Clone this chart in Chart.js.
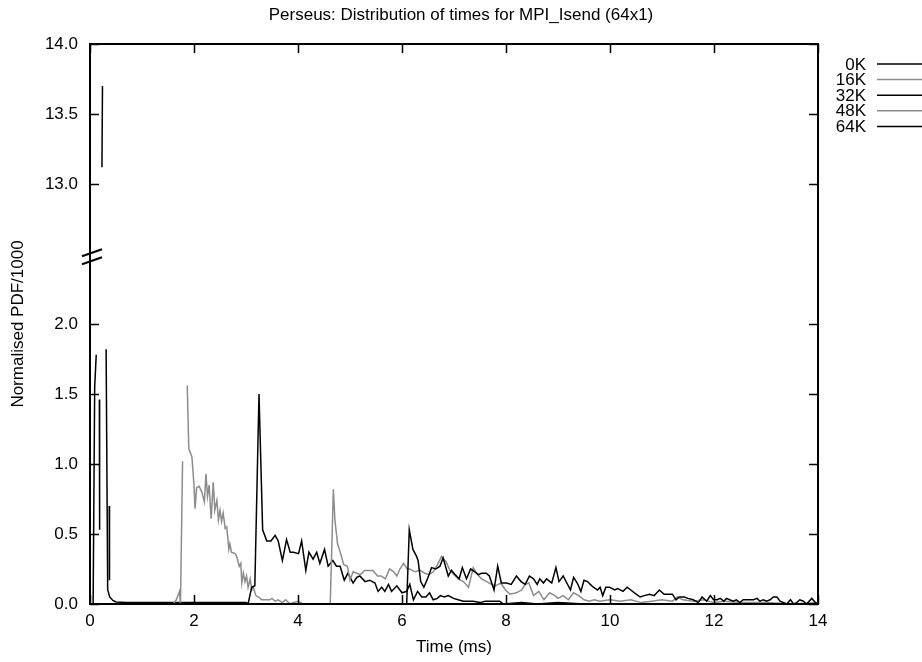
<!DOCTYPE html>
<html>
<head>
<meta charset="utf-8">
<title>Perseus: Distribution of times for MPI_Isend</title>
<script src="https://cdn.jsdelivr.net/npm/chart.js@4.4.1/dist/chart.umd.min.js"></script>
<style>
  html, body { margin: 0; padding: 0; background: #fff; }
  #chart { display: block; }
</style>
</head>
<body>
<canvas id="chart" width="922" height="662"></canvas>
<script>
// Séries (temps en ms, PDF normalisée / 1000), null = trou dans la courbe
const seriesLabels = ["0K", "16K", "32K", "48K", "64K"];

const times0K = [0.00, 0.06, 0.09, 0.12, 0.15, 0.18, 0.185, 0.21, 0.23, 0.24, 0.27, 0.31, 0.34, 0.38, 0.44, 0.50, 0.70, 1.00, 1.50, 2.00, 2.50, 3.00, 3.05, 14.00, 14.00, 0.37, 0.375];
const values0K = [0, 0, 1.55, 1.78, null, 1.46, 0.53, null, 13.12, 13.70, null, 1.82, 0.10, 0.05, 0.025, 0.015, 0.01, 0.01, 0.01, 0.01, 0.01, 0.01, 0, 0, null, 0.70, 0.17];

const times16K = [0.00, 1.60, 1.66, 1.70, 1.72, 1.74, 1.78, 1.82, 1.87, 1.90, 1.96, 2.00, 2.02, 2.05, 2.10, 2.15, 2.20, 2.23, 2.26, 2.29, 2.33, 2.37, 2.40, 2.44, 2.47, 2.50, 2.53, 2.56, 2.60, 2.63, 2.67, 2.69, 2.72, 2.79, 2.82, 2.87, 2.90, 2.92, 2.95, 2.98, 3.01, 3.04, 3.08, 3.11, 3.14, 3.19, 3.24, 3.30, 3.37, 3.46, 3.50, 3.56, 3.62, 3.70, 3.76, 3.85, 3.90, 4.00, 4.10, 14.00];
const values16K = [0, 0, 0.03, 0.07, 0.09, 0.00, 1.02, null, 1.56, 1.11, 1.05, 0.85, 0.68, 0.83, 0.84, 0.80, 0.73, 0.93, 0.77, 0.85, 0.61, 0.87, 0.67, 0.74, 0.60, 0.67, 0.59, 0.65, 0.54, 0.55, 0.39, 0.43, 0.37, 0.36, 0.34, 0.27, 0.29, 0.15, 0.22, 0.16, 0.20, 0.12, 0.18, 0.10, 0.12, 0.06, 0.05, 0.03, 0.03, 0.03, 0.04, 0.02, 0.03, 0.01, 0.03, 0.00, 0.01, 0.02, 0.00, 0];

const times32K = [0.00, 3.00, 3.04, 3.11, 3.17, 3.25, 3.32, 3.40, 3.48, 3.56, 3.62, 3.70, 3.78, 3.85, 3.91, 4.01, 4.07, 4.15, 4.21, 4.29, 4.36, 4.42, 4.51, 4.58, 4.67, 4.74, 4.81, 4.89, 4.96, 5.06, 5.13, 5.19, 5.29, 5.38, 5.48, 5.54, 5.61, 5.67, 5.74, 5.80, 5.90, 6.00, 6.09, 6.15, 6.22, 6.30, 6.38, 6.46, 6.53, 6.60, 6.68, 6.74, 6.81, 6.89, 6.99, 7.08, 7.18, 7.28, 7.37, 7.50, 7.60, 7.76, 7.88, 7.95, 8.30, 8.60, 9.00, 9.50, 14.00];
const values32K = [0, 0, 0, 0.12, 0.13, 1.50, 0.53, 0.45, 0.45, 0.49, 0.45, 0.31, 0.46, 0.37, 0.37, 0.36, 0.45, 0.24, 0.37, 0.32, 0.37, 0.29, 0.39, 0.27, 0.31, 0.27, 0.27, 0.17, 0.22, 0.15, 0.19, 0.20, 0.16, 0.17, 0.15, 0.09, 0.12, 0.09, 0.14, 0.09, 0.13, 0.08, 0.09, 0.14, 0.03, 0.09, 0.05, 0.05, 0.08, 0.03, 0.04, 0.06, 0.05, 0.06, 0.04, 0.03, 0.02, 0.02, 0.02, 0.01, 0.02, 0.02, 0.02, 0.00, 0.01, 0.00, 0.01, 0.00, 0];

const times48K = [0.00, 4.62, 4.68, 4.71, 4.76, 4.82, 4.88, 4.95, 5.00, 5.06, 5.13, 5.20, 5.28, 5.36, 5.44, 5.53, 5.60, 5.68, 5.76, 5.84, 5.90, 5.96, 6.03, 6.10, 6.15, 6.25, 6.35, 6.44, 6.52, 6.60, 6.68, 6.76, 6.85, 6.92, 7.00, 7.08, 7.18, 7.28, 7.37, 7.45, 7.53, 7.63, 7.72, 7.80, 7.90, 7.99, 8.08, 8.20, 8.30, 8.37, 8.44, 8.53, 8.63, 8.73, 8.84, 8.94, 9.00, 9.10, 9.20, 9.30, 9.40, 9.50, 9.60, 9.70, 9.80, 10.00, 10.20, 10.40, 10.60, 10.80, 11.00, 11.20, 11.30, 11.40, 11.60, 11.80, 12.00, 12.20, 12.50, 13.00, 13.50, 14.00];
const values48K = [0, 0, 0.82, 0.60, 0.43, 0.36, 0.28, 0.27, 0.17, 0.23, 0.22, 0.21, 0.24, 0.24, 0.24, 0.20, 0.20, 0.18, 0.25, 0.23, 0.20, 0.25, 0.29, 0.25, 0.25, 0.23, 0.24, 0.22, 0.21, 0.23, 0.28, 0.34, 0.30, 0.24, 0.21, 0.18, 0.16, 0.12, 0.26, 0.21, 0.18, 0.16, 0.14, 0.13, 0.15, 0.10, 0.07, 0.08, 0.10, 0.14, 0.15, 0.06, 0.09, 0.03, 0.08, 0.06, 0.04, 0.06, 0.03, 0.08, 0.06, 0.03, 0.02, 0.03, 0.02, 0.03, 0.02, 0.03, 0.01, 0.02, 0.03, 0.02, 0.05, 0.03, 0.02, 0.03, 0.01, 0.02, 0.01, 0.01, 0.00, 0.01];

const times64K = [0.00, 6.09, 6.14, 6.21, 6.28, 6.31, 6.36, 6.42, 6.49, 6.57, 6.65, 6.73, 6.79, 6.89, 6.95, 7.02, 7.10, 7.16, 7.24, 7.32, 7.40, 7.47, 7.53, 7.62, 7.68, 7.77, 7.84, 7.91, 8.01, 8.10, 8.20, 8.29, 8.37, 8.45, 8.53, 8.60, 8.65, 8.72, 8.78, 8.88, 8.96, 9.02, 9.10, 9.17, 9.24, 9.30, 9.37, 9.44, 9.50, 9.57, 9.62, 9.68, 9.76, 9.81, 9.86, 9.92, 9.99, 10.09, 10.15, 10.25, 10.33, 10.40, 10.47, 10.58, 10.66, 10.76, 10.85, 10.95, 11.04, 11.10, 11.20, 11.27, 11.33, 11.43, 11.50, 11.60, 11.70, 11.77, 11.86, 11.93, 11.99, 12.06, 12.12, 12.19, 12.24, 12.30, 12.37, 12.43, 12.50, 12.56, 12.63, 12.70, 12.76, 12.83, 12.88, 12.95, 13.01, 13.08, 13.14, 13.21, 13.27, 13.34, 13.40, 13.47, 13.53, 13.59, 13.65, 13.72, 13.78, 13.88, 13.95, 14.00];
const values64K = [0, 0, 0.53, 0.39, 0.34, 0.31, 0.16, 0.12, 0.18, 0.26, 0.25, 0.27, 0.33, 0.20, 0.24, 0.21, 0.18, 0.26, 0.18, 0.25, 0.23, 0.21, 0.22, 0.22, 0.20, 0.10, 0.27, 0.15, 0.15, 0.14, 0.20, 0.16, 0.14, 0.20, 0.18, 0.14, 0.18, 0.15, 0.18, 0.15, 0.26, 0.16, 0.20, 0.15, 0.10, 0.19, 0.15, 0.09, 0.17, 0.16, 0.14, 0.12, 0.10, 0.12, 0.06, 0.12, 0.12, 0.10, 0.11, 0.09, 0.12, 0.10, 0.08, 0.05, 0.06, 0.07, 0.06, 0.10, 0.07, 0.07, 0.07, 0.03, 0.05, 0.05, 0.04, 0.03, 0.01, 0.05, 0.02, 0.06, 0.03, 0.03, 0.04, 0.02, 0.04, 0.03, 0.02, 0.03, 0.01, 0.03, 0.03, 0.03, 0.03, 0.04, 0.02, 0.03, 0.02, 0.03, 0.05, 0.05, 0.02, 0.01, 0.00, 0.03, 0.00, 0.01, 0.03, 0.02, 0.00, 0.04, 0.01, 0.00];

const xTickValues = [0, 2, 4, 6, 8, 10, 12, 14];
const yTickValues = [0.0, 0.5, 1.0, 1.5, 2.0, 13.0, 13.5, 14.0];

// Axe coupé : tout ce qui est au-dessus de la coupure est décalé de 10 unités
const BREAK_AT = 2.5;
const AXIS_SHIFT = 10;
const BREAK_MARK = 2.48;

function toAxis(v) {
  return v > BREAK_AT ? v - AXIS_SHIFT : v;
}
function fromAxis(v) {
  return v > BREAK_AT ? v + AXIS_SHIFT : v;
}
function buildPoints(times, values) {
  return times.map((t, i) => ({ x: t, y: values[i] === null ? null : toAxis(values[i]) }));
}

const FONT = "'Liberation Sans', Arial, Helvetica, sans-serif";
const FONT_SIZE = 17;
const BLACK = "#000000";
const GREY = "#8c8c8c";

const allSeries = [
  { times: times0K, values: values0K, color: BLACK },
  { times: times16K, values: values16K, color: GREY },
  { times: times32K, values: values32K, color: BLACK },
  { times: times48K, values: values48K, color: GREY },
  { times: times64K, values: values64K, color: BLACK }
];

const datasets = allSeries.map((s, i) => ({
  label: seriesLabels[i],
  data: buildPoints(s.times, s.values),
  borderColor: s.color,
  backgroundColor: s.color,
  borderWidth: 1.5,
  pointRadius: 0,
  tension: 0,
  spanGaps: false,
  order: seriesLabels.length - i
}));

// Cadre, graduations intérieures, marque de coupure et légende façon gnuplot
const gnuplotFrame = {
  id: "gnuplotFrame",
  afterDraw(chart) {
    const ctx = chart.ctx;
    const area = chart.chartArea;
    const xs = chart.scales.x;
    const ys = chart.scales.y;
    const tick = 9;

    ctx.save();
    ctx.strokeStyle = BLACK;
    ctx.lineWidth = 2;
    ctx.strokeRect(area.left, area.top, area.right - area.left, area.bottom - area.top);

    ctx.lineWidth = 1.5;
    ctx.beginPath();
    xTickValues.forEach(v => {
      const px = Math.round(xs.getPixelForValue(v)) + 0.5;
      ctx.moveTo(px, area.bottom);
      ctx.lineTo(px, area.bottom - tick);
      ctx.moveTo(px, area.top);
      ctx.lineTo(px, area.top + tick);
    });
    yTickValues.forEach(v => {
      const py = Math.round(ys.getPixelForValue(toAxis(v))) + 0.5;
      ctx.moveTo(area.left, py);
      ctx.lineTo(area.left + tick, py);
      ctx.moveTo(area.right, py);
      ctx.lineTo(area.right - tick, py);
    });
    ctx.stroke();

    // marque de coupure sur l'axe vertical
    const yb = ys.getPixelForValue(BREAK_MARK);
    ctx.lineWidth = 2;
    ctx.beginPath();
    [-4, 4].forEach(off => {
      ctx.moveTo(area.left - 8, yb + off + 3.5);
      ctx.lineTo(area.left + 12, yb + off - 3.5);
    });
    ctx.stroke();

    // légende à droite : texte puis segment
    ctx.font = FONT_SIZE + "px " + FONT;
    ctx.textAlign = "right";
    ctx.textBaseline = "middle";
    chart.data.datasets.forEach((ds, i) => {
      const y = 64 + i * 15.6;
      ctx.fillStyle = BLACK;
      ctx.fillText(ds.label, area.right + 48, y + 1);
      ctx.strokeStyle = ds.borderColor;
      ctx.lineWidth = 1.5;
      ctx.beginPath();
      ctx.moveTo(area.right + 59, y);
      ctx.lineTo(area.right + 104, y);
      ctx.stroke();
    });
    ctx.restore();
  }
};

const chart = new Chart(document.getElementById("chart"), {
  type: "line",
  data: { datasets: datasets },
  plugins: [gnuplotFrame],
  options: {
    responsive: false,
    animation: false,
    devicePixelRatio: 1,
    layout: { padding: 0 },
    plugins: {
      legend: { display: false },
      tooltip: { enabled: false },
      title: {
        display: true,
        text: "Perseus: Distribution of times for MPI_Isend (64x1)",
        color: BLACK,
        font: { family: FONT, size: FONT_SIZE, weight: "normal", lineHeight: 1.2 },
        padding: { top: 5, bottom: 18.6 }
      }
    },
    scales: {
      x: {
        type: "linear",
        min: 0,
        max: 14,
        grid: { display: false, drawTicks: false },
        border: { display: false },
        afterBuildTicks: scale => {
          scale.ticks = xTickValues.map(v => ({ value: v }));
        },
        afterFit: scale => { scale.height = 58; },
        ticks: {
          color: BLACK,
          padding: 7,
          maxRotation: 0,
          font: { family: FONT, size: FONT_SIZE },
          callback: v => String(v)
        },
        title: {
          display: true,
          text: "Time (ms)",
          color: BLACK,
          font: { family: FONT, size: FONT_SIZE },
          padding: { top: 0, bottom: 4 }
        }
      },
      y: {
        type: "linear",
        min: 0,
        max: 4,
        grid: { display: false, drawTicks: false },
        border: { display: false },
        afterBuildTicks: scale => {
          scale.ticks = yTickValues.map(v => ({ value: toAxis(v) }));
        },
        afterFit: scale => { scale.width = 90; },
        ticks: {
          color: BLACK,
          padding: 12,
          font: { family: FONT, size: FONT_SIZE },
          callback: v => fromAxis(v).toFixed(1)
        },
        title: {
          display: true,
          text: "Normalised PDF/1000",
          color: BLACK,
          font: { family: FONT, size: FONT_SIZE },
          padding: { top: 8, bottom: 0 }
        }
      },
      legendSpace: {
        type: "linear",
        axis: "y",
        position: "right",
        grid: { display: false },
        border: { display: false },
        ticks: { display: false },
        afterFit: scale => { scale.width = 104; }
      }
    }
  }
});
</script>
</body>
</html>
